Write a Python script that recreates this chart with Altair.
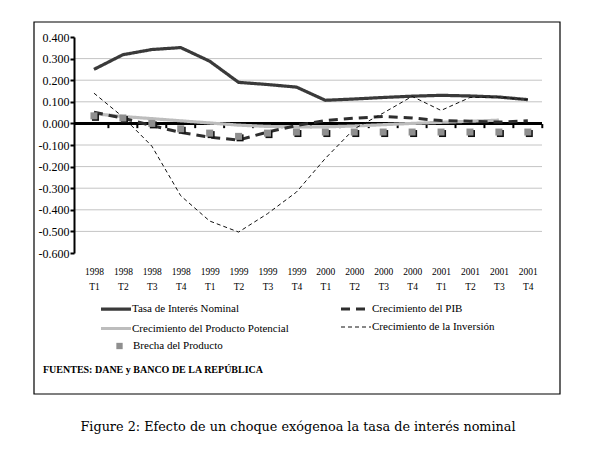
import altair as alt
import pandas as pd

periodos = ["1998 T1", "1998 T2", "1998 T3", "1998 T4",
            "1999 T1", "1999 T2", "1999 T3", "1999 T4",
            "2000 T1", "2000 T2", "2000 T3", "2000 T4",
            "2001 T1", "2001 T2", "2001 T3", "2001 T4"]

tasa = [0.250, 0.318, 0.342, 0.351, 0.288, 0.190, 0.180, 0.168,
        0.107, 0.113, 0.120, 0.126, 0.130, 0.127, 0.122, 0.110]
pib = [0.052, 0.024, -0.010, -0.042, -0.064, -0.077, -0.040, -0.010,
       0.013, 0.024, 0.032, 0.025, 0.013, 0.010, 0.006, 0.012]
potencial = [0.045, 0.032, 0.022, 0.012, 0.002, -0.008, -0.014, -0.016,
             -0.016, -0.012, -0.006, 0.000, 0.005, 0.010, 0.015, None]
inversion = [0.140, 0.030, -0.105, -0.335, -0.452, -0.503, -0.418, -0.318,
             -0.162, -0.025, 0.048, 0.125, 0.060, 0.120, 0.122, 0.110]
brecha = [0.035, 0.025, 0.000, -0.025, -0.045, -0.060, -0.045, -0.040,
          -0.040, -0.040, -0.040, -0.040, -0.040, -0.040, -0.040, -0.040]

y_ticks = [0.4, 0.3, 0.2, 0.1, 0.0, -0.1, -0.2, -0.3, -0.4, -0.5, -0.6]

# legend order (column-major: Tasa / Potencial in col 1, PIB / Inversión in col 2)
line_names = ["Tasa de Interés Nominal", "Crecimiento del Producto Potencial",
              "Crecimiento del PIB", "Crecimiento de la Inversión"]
line_values = [tasa, potencial, pib, inversion]
line_colors = ["#3a3a3a", "#bdbdbd", "#2e2e2e", "#111111"]
line_dashes = [[1, 0], [1, 0], [9, 6], [4, 3]]
line_widths = [3.2, 3.2, 3, 1]
bar_name = "Brecha del Producto"
fuente = "FUENTES: DANE y BANCO DE LA REPÚBLICA"
caption = "Figure 2: Efecto de un choque exógenoa la tasa de interés nominal"

rows = []
for name, vals in zip(line_names, line_values):
    for i, v in enumerate(vals):
        if v is not None:
            rows.append({"i": i, "periodo": periodos[i], "serie": name, "valor": v})
lines_df = pd.DataFrame(rows)
bar_df = pd.DataFrame({"i": list(range(len(periodos))), "valor": brecha, "serie": bar_name})
grid_df = pd.DataFrame({"valor": y_ticks[1:-1]})
bound_df = pd.DataFrame({"i": [k - 0.5 for k in range(1, len(periodos))] + [len(periodos) - 0.5]})
zero_df = pd.DataFrame({"valor": [0.0]})
one = pd.DataFrame({"t": [fuente]})

label_arr = "[" + ",".join("['%s','%s']" % tuple(p.split(" ")) for p in periodos) + "]"

FONT = "Liberation Serif"
xscale = alt.Scale(domain=[-0.69, 15.49], nice=False, zero=False)
yscale = alt.Scale(domain=[-0.6, 0.4], nice=False)

xaxis = alt.Axis(values=list(range(len(periodos))), tickCount=40, labelExpr=label_arr + "[datum.value]",
                 grid=False, ticks=False, domain=False, labelPadding=13, labelOverlap=False,
                 labelFont=FONT, labelFontSize=9.5, labelColor="black", labelBound=False,
                 labelLineHeight=15, title=None, labelAngle=0, zindex=1)
yaxis = alt.Axis(values=y_ticks, tickCount=40,
                 labelExpr="(datum.value < -0.0001 ? '-' : '') + format(abs(datum.value), '.3f')",
                 grid=False, tickSize=4, tickWidth=2, tickColor="black",
                 domainColor="black", domainWidth=2, labelPadding=1, labelOverlap=False,
                 labelFont=FONT, labelFontSize=12, labelColor="black", title=None, zindex=1)

X = alt.X("i:Q", scale=xscale, axis=xaxis)
Y = alt.Y("valor:Q", scale=yscale, axis=yaxis)

frame = alt.Chart(one).mark_rect(fill="white", stroke="black", strokeWidth=1.2).encode(
    x=alt.value(-40), x2=alt.value(486), y=alt.value(-15), y2=alt.value(357))

grid = alt.Chart(grid_df).mark_rule(color="#c4c4c4", strokeWidth=1).encode(y=Y)

zero = alt.Chart(zero_df).mark_rule(color="black", strokeWidth=3).encode(y=Y)

ticks = alt.Chart(bound_df).mark_rule(color="black", strokeWidth=2).encode(
    x=X, y=alt.datum(-0.003), y2=alt.datum(-0.022))

leg = alt.Legend(orient="none", legendX=25, legendY=262.5, columns=2, columnPadding=46,
                 rowPadding=3.5, symbolType="M-1,0H3", symbolSize=225, title=None,
                 labelFont=FONT, labelFontSize=11, labelColor="black", labelOffset=14,
                 labelLimit=400)

lines = alt.Chart(lines_df).mark_line().encode(
    x=X,
    y=Y,
    stroke=alt.Stroke("serie:N", scale=alt.Scale(domain=line_names, range=line_colors), legend=leg),
    strokeDash=alt.StrokeDash("serie:N", scale=alt.Scale(domain=line_names, range=line_dashes), legend=leg),
    strokeWidth=alt.StrokeWidth("serie:N", scale=alt.Scale(type="ordinal", domain=line_names,
                                range=line_widths), legend=leg),
)

shadow = alt.Chart(bar_df).mark_square(size=49, opacity=1, xOffset=1.5, yOffset=1.5).encode(
    x=X, y=Y, color=alt.value("#111111"))

squares = alt.Chart(bar_df).mark_square(size=49, opacity=1).encode(
    x=X, y=Y,
    fill=alt.Fill("serie:N", scale=alt.Scale(domain=[bar_name], range=["#8f8f8f"]),
                  legend=alt.Legend(orient="none", legendX=40, legendY=303.5, title=None,
                                    symbolType="square", symbolSize=40, symbolStrokeWidth=0,
                                    labelFont=FONT, labelFontSize=11, labelColor="black",
                                    labelOffset=8, labelLimit=400)))

src = alt.Chart(one).mark_text(align="left", baseline="middle", font=FONT, fontSize=10,
                               fontWeight="bold", color="black").encode(
    text="t:N", x=alt.value(-31), y=alt.value(333))

chart = alt.layer(frame, grid, zero, ticks, lines, shadow, squares, src).properties(
    width=468, height=216,
    padding={"left": 66, "top": 29, "right": 50, "bottom": 195},
    autosize=alt.AutoSizeParams(type="none"),
    title=alt.TitleParams(caption, orient="bottom", anchor="middle", font="DejaVu Serif",
                          fontSize=12.8, fontWeight="normal", color="black", offset=26, dx=-10),
).configure_view(stroke=None)

chart.save("out.html", embed_options={"renderer": "svg", "actions": False})
